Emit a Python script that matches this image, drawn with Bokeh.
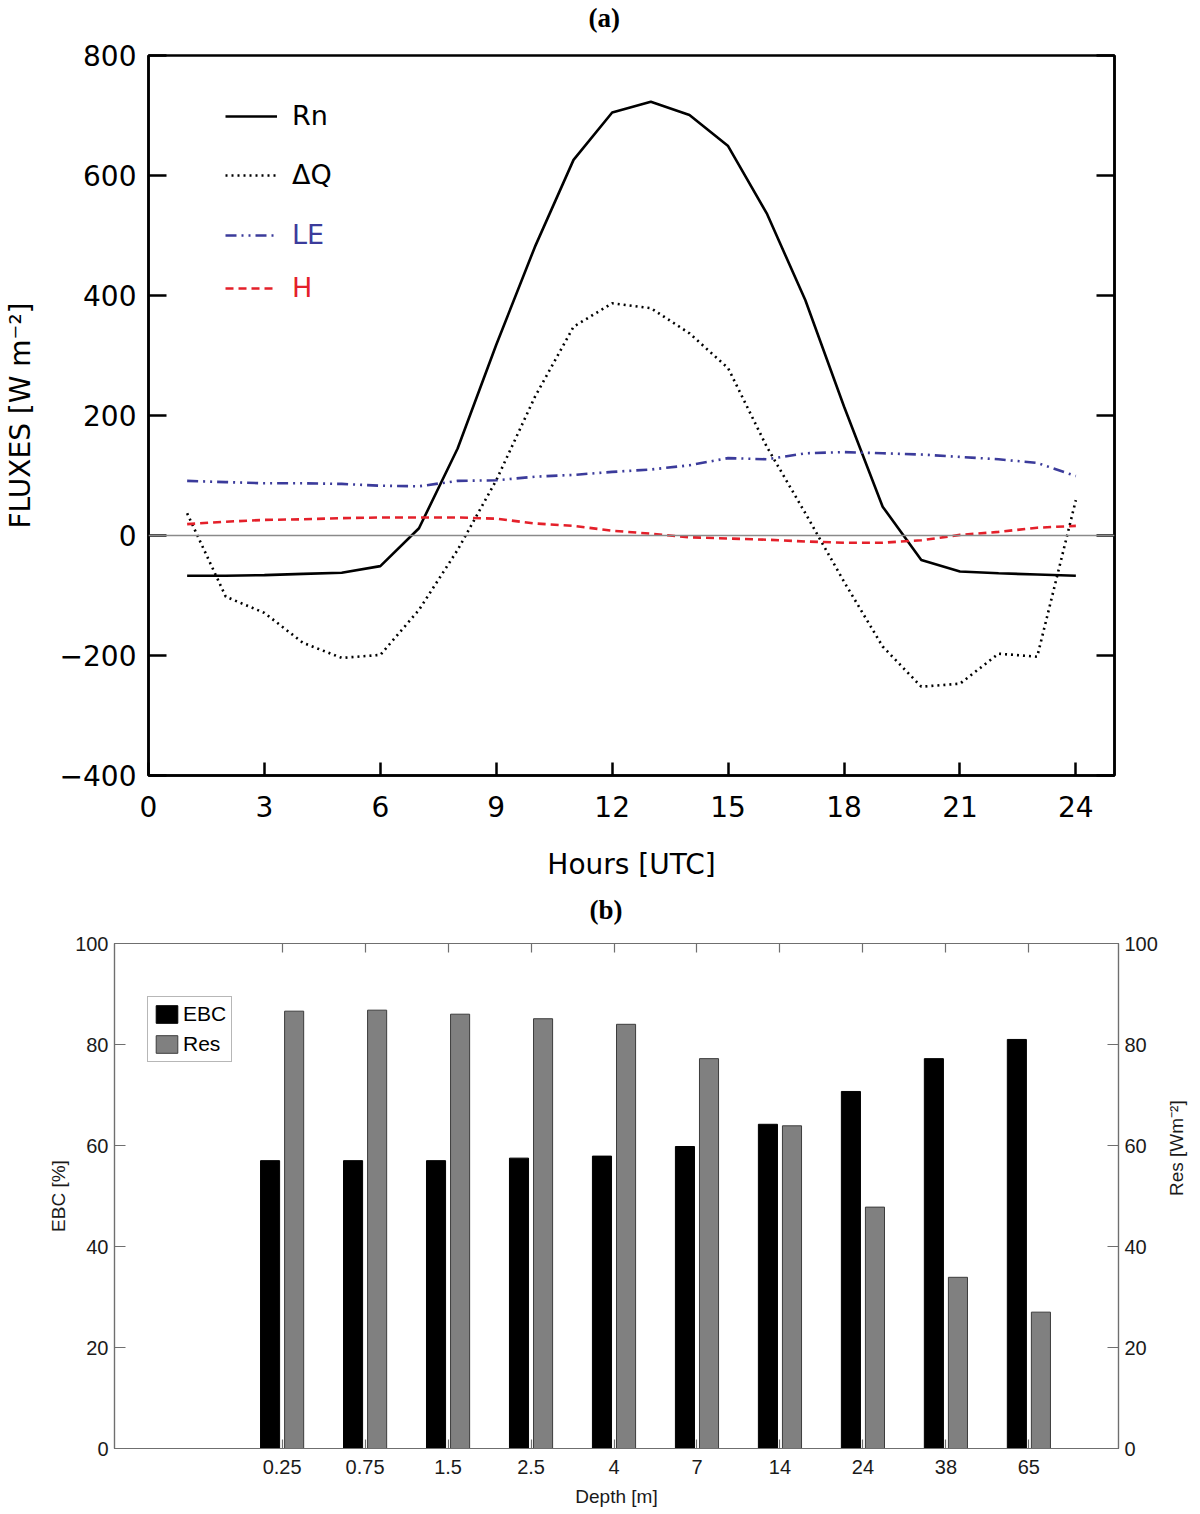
import math
from bokeh.plotting import figure
from bokeh.models import (ColumnDataSource, Legend, LegendItem, LinearAxis, Range1d,
                          FixedTicker, Span, CustomJSTickFormatter)
from bokeh.layouts import column
from bokeh.transform import dodge
from bokeh.embed import file_html
from bokeh.resources import INLINE

# ---------------- data: panel (a) ----------------
hours = list(range(1, 25))
rn = [-67, -67, -66, -64, -62, -51, 12, 145, 318, 481, 626, 705, 723, 701, 649, 537,
      392, 215, 48, -41, -60, -63, -65, -67]
dq = [37, -102, -129, -179, -204, -199, -124, -24, 92, 231, 348, 387, 379, 337, 279,
      148, 37, -77, -185, -252, -247, -197, -202, 59]
le = [91, 89, 87, 87, 86, 83, 82, 91, 92, 98, 101, 106, 110, 117, 129, 127, 137, 139,
      137, 135, 131, 127, 121, 99]
hflux = [19, 23, 26, 27, 29, 30, 30, 30, 28, 20, 16, 8, 3, -3, -5, -7, -10, -12, -12,
         -8, 1, 6, 13, 16]
x_ticks_a = [0, 3, 6, 9, 12, 15, 18, 21, 24]
y_ticks_a = [-400, -200, 0, 200, 400, 600, 800]

# ---------------- data: panel (b) ----------------
depth_labels = ["0.25", "0.75", "1.5", "2.5", "4", "7", "14", "24", "38", "65"]
ebc = [57.0, 57.0, 57.0, 57.5, 57.9, 59.8, 64.2, 70.7, 77.2, 81.0]
res = [86.6, 86.8, 86.0, 85.1, 84.0, 77.2, 63.9, 47.8, 33.9, 27.0]
y_ticks_b = [0, 20, 40, 60, 80, 100]

LE_COL = "#3b3b9b"
H_COL = "#e4202a"
FONT_A = "DejaVu Sans"
FONT_B = "Liberation Sans"
W = 1200


def no_frame_align(p):
    if "frame_align" in p.properties():
        p.frame_align = False


def spacer_axis(p, gap, tick):
    # invisible axis above the frame, only used to push the title upward
    ax = LinearAxis(ticker=FixedTicker(ticks=[tick]), major_tick_in=0, major_tick_out=gap,
                    major_tick_line_color=None, minor_tick_line_color=None,
                    axis_line_color=None, major_label_text_font_size="1px",
                    major_label_text_color=None, major_label_standoff=0)
    p.add_layout(ax, "above")
    return ax


def style_title(p, left_offset):
    p.title.align = "left"
    p.title.offset = left_offset
    p.title.text_font = "Liberation Serif"
    p.title.text_font_style = "bold"
    p.title.text_font_size = "27px"
    p.title.text_color = "black"
    p.title.standoff = 0


# ================= panel (a) =================
pa = figure(width=W, height=889, x_range=Range1d(0, 25), y_range=Range1d(-400, 800),
            output_backend="svg", toolbar_location=None,
            min_border_left=143, min_border_right=W - 1114, min_border_top=54,
            min_border_bottom=114, title="(a)")
no_frame_align(pa)
style_title(pa, 440)
pa.grid.visible = False
pa.outline_line_color = "black"
pa.outline_line_width = 2.5
pa.background_fill_color = "white"

src_a = ColumnDataSource(dict(h=hours, rn=rn, dq=dq, le=le, hf=hflux))

pa.add_layout(Span(location=0, dimension="width", line_color="#8a8a8a", line_width=1.3))

r_rn = pa.line("h", "rn", source=src_a, line_color="black", line_width=2.6)
r_dq = pa.line("h", "dq", source=src_a, line_color="black", line_width=2.6,
               line_dash="2 4")
r_le = pa.line("h", "le", source=src_a, line_color=LE_COL, line_width=2.6,
               line_dash="11 5 2 5 2 5")
r_h = pa.line("h", "hf", source=src_a, line_color=H_COL, line_width=2.6,
              line_dash="8 5")

fmt_minus = CustomJSTickFormatter(code="return tick < 0 ? '\u2212' + Math.abs(tick) : String(tick);")

xa = pa.xaxis[0]
xa.ticker = FixedTicker(ticks=x_ticks_a)
xa.axis_label = "Hours [UTC]"
ya = pa.yaxis[0]
ya.ticker = FixedTicker(ticks=y_ticks_a)
ya.formatter = fmt_minus
ya.axis_label = "FLUXES [W m\u207b\u00b2]"
for ax in (xa, ya):
    ax.axis_line_width = 2.5
    ax.axis_line_color = "black"
    ax.major_tick_line_width = 2.5
    ax.major_tick_line_color = "black"
    ax.major_tick_out = 0
    ax.minor_tick_line_color = None
    ax.major_label_text_font = FONT_A
    ax.major_label_text_font_size = "28px"
    ax.major_label_text_color = "black"
    ax.axis_label_text_font = FONT_A
    ax.axis_label_text_font_size = "28px"
    ax.axis_label_text_font_style = "normal"
    ax.axis_label_text_color = "black"
xa.major_tick_in = 13
xa.major_label_standoff = 20
xa.axis_label_standoff = 28
ya.major_tick_in = 18
ya.major_label_standoff = 12
ya.axis_label_standoff = 20

ra = LinearAxis(ticker=FixedTicker(ticks=y_ticks_a), major_tick_in=18, major_tick_out=0,
                major_tick_line_width=2.5, major_tick_line_color="black",
                minor_tick_line_color=None, axis_line_width=2.5,
                axis_line_color="black", major_label_text_font_size="1px",
                major_label_text_color=None, major_label_standoff=0)
pa.add_layout(ra, "right")
spacer_axis(pa, 23, 12)

frame_bottom_page = 775
legend_specs = [("Rn", r_rn, "black", 115), ("\u0394Q", r_dq, "black", 174),
                ("LE", r_le, LE_COL, 234), ("H", r_h, H_COL, 287)]
for lab, rend, col, yc in legend_specs:
    lg = Legend(items=[LegendItem(label=lab, renderers=[rend])],
                location=(77, frame_bottom_page - yc - 16),
                glyph_width=52, glyph_height=20, label_height=20, label_standoff=15,
                padding=0, margin=0, border_line_color=None, background_fill_alpha=0,
                label_text_font=FONT_A, label_text_font_size="27px",
                label_text_color=col)
    pa.add_layout(lg)

# ================= panel (b) =================
pos = list(range(1, len(depth_labels) + 1))
src_b = ColumnDataSource(dict(pos=pos, ebc=ebc, res=res))

pb = figure(width=W, height=624, x_range=Range1d(-1.02, 11.08), y_range=Range1d(0, 100),
            output_backend="svg", toolbar_location=None,
            min_border_left=114, min_border_right=W - 1119, min_border_top=54,
            min_border_bottom=65, title="(b)")
no_frame_align(pb)
style_title(pb, 475)
pb.extra_y_ranges = {"res": Range1d(0, 100)}
pb.grid.visible = False
pb.outline_line_color = "#6f6f6f"
pb.outline_line_width = 1.2

b_ebc = pb.vbar(x=dodge("pos", -0.145, range=pb.x_range), top="ebc", width=0.23,
                source=src_b, fill_color="black", line_color="black", line_width=1)
b_res = pb.vbar(x=dodge("pos", 0.145, range=pb.x_range), top="res", width=0.23,
                source=src_b, fill_color="#808080", line_color="#3c3c3c", line_width=1,
                y_range_name="res")

xb = pb.xaxis[0]
xb.ticker = FixedTicker(ticks=pos)
xb.major_label_overrides = {p_: l_ for p_, l_ in zip(pos, depth_labels)}
xb.axis_label = "Depth [m]"
yb = pb.yaxis[0]
yb.ticker = FixedTicker(ticks=y_ticks_b)
yb.axis_label = "EBC [%]"
rb = LinearAxis(y_range_name="res", ticker=FixedTicker(ticks=y_ticks_b),
                axis_label="Res [Wm\u207b\u00b2]")
if "axis_label_orientation" in rb.properties():
    rb.axis_label_orientation = math.pi / 2
pb.add_layout(rb, "right")
tb = LinearAxis(ticker=FixedTicker(ticks=pos), major_label_text_font_size="1px",
                major_label_text_color=None, major_label_standoff=0)
pb.add_layout(tb, "above")
spacer_axis(pb, 19, 1)
for ax in (xb, yb, rb, tb):
    ax.axis_line_width = 1.2
    ax.axis_line_color = "#6f6f6f"
    ax.major_tick_line_width = 1.2
    ax.major_tick_line_color = "#6f6f6f"
    ax.major_tick_out = 0
    ax.minor_tick_line_color = None
    ax.major_label_text_font = FONT_B
    ax.axis_label_text_font = FONT_B
    ax.axis_label_text_font_size = "19px"
    ax.axis_label_text_font_style = "normal"
    ax.axis_label_text_color = "#1a1a1a"
for ax in (xb, yb, rb):
    ax.major_label_text_font_size = "20px"
    ax.major_label_text_color = "#1a1a1a"
xb.major_tick_in = 9
tb.major_tick_in = 9
yb.major_tick_in = 11
rb.major_tick_in = 11
xb.major_label_standoff = 11
xb.axis_label_standoff = 9
yb.major_label_standoff = 6
yb.axis_label_standoff = 3
rb.major_label_standoff = 6
rb.axis_label_standoff = 16

lgb = Legend(items=[LegendItem(label="EBC", renderers=[b_ebc]),
                    LegendItem(label="Res", renderers=[b_res])],
             location=(33, 386), glyph_width=27, glyph_height=22, label_height=22,
             label_standoff=3, padding=5, spacing=6, margin=0,
             border_line_color="#6f6f6f", border_line_width=1,
             background_fill_color="white", background_fill_alpha=1,
             label_text_font=FONT_B, label_text_font_size="21px",
             label_text_color="black")
pb.add_layout(lgb)

layout = column(pa, pb, spacing=0)
open("out.html", "w").write(file_html(layout, INLINE))
